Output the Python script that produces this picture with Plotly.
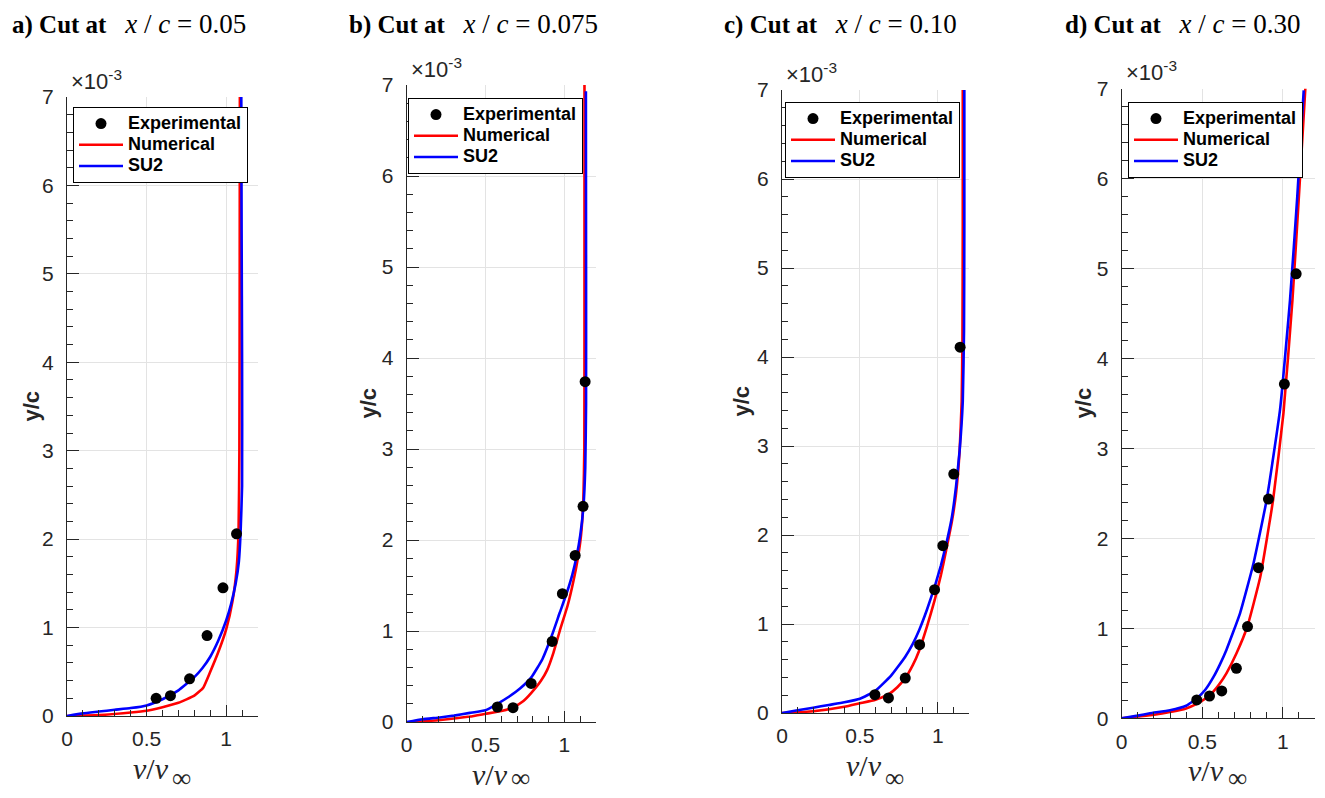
import plotly.graph_objects as go

# ---------------- data (y/c values in units of 1e-3) ----------------
panel_titles = ["a) Cut at", "b) Cut at", "c) Cut at", "d) Cut at"]
panel_xc = ["0.05", "0.075", "0.10", "0.30"]
series_names = ["Experimental", "Numerical", "SU2"]

# Panel a
a_exp_v = [0.56, 0.65, 0.77, 0.88, 0.98, 1.065]
a_exp_y = [0.20, 0.23, 0.42, 0.91, 1.45, 2.06]
a_num_v = [0, 0.2, 0.4, 0.5, 0.6, 0.7, 0.8, 0.856, 0.9, 0.95, 1.0, 1.04, 1.065, 1.078, 1.083, 1.085, 1.086]
a_num_y = [0, 0.01, 0.04, 0.06, 0.10, 0.15, 0.23, 0.32, 0.50, 0.72, 0.98, 1.30, 1.65, 2.1, 3.0, 5.0, 7.0]
a_su2_v = [0, 0.1, 0.2, 0.3, 0.4, 0.5, 0.6, 0.7, 0.8, 0.85, 0.9, 0.95, 1.0, 1.03, 1.06, 1.08, 1.09, 1.1, 1.1, 1.097, 1.095]
a_su2_y = [0, 0.03, 0.05, 0.07, 0.09, 0.12, 0.19, 0.29, 0.44, 0.54, 0.67, 0.85, 1.08, 1.26, 1.50, 1.75, 2.05, 2.6, 4.0, 5.5, 7.0]

# Panel b
b_exp_v = [0.575, 0.674, 0.789, 0.922, 0.987, 1.068, 1.118, 1.131]
b_exp_y = [0.165, 0.157, 0.424, 0.885, 1.41, 1.83, 2.37, 3.74]
b_num_v = [0.03, 0.2, 0.4, 0.5, 0.6, 0.674, 0.74, 0.79, 0.85, 0.89, 0.93, 0.97, 1.02, 1.057, 1.085, 1.105, 1.12, 1.126, 1.127, 1.127]
b_num_y = [0, 0.02, 0.06, 0.09, 0.12, 0.16, 0.23, 0.32, 0.45, 0.57, 0.76, 1.0, 1.28, 1.55, 1.80, 2.05, 2.45, 3.0, 4.5, 7.0]
b_su2_v = [0, 0.1, 0.21, 0.3, 0.4, 0.5, 0.575, 0.65, 0.72, 0.79, 0.86, 0.92, 0.97, 1.015, 1.05, 1.078, 1.1, 1.12, 1.132, 1.137, 1.137, 1.136]
b_su2_y = [0, 0.03, 0.05, 0.07, 0.10, 0.13, 0.20, 0.28, 0.37, 0.49, 0.69, 0.95, 1.20, 1.42, 1.62, 1.83, 2.05, 2.36, 2.8, 3.5, 5.0, 6.93]

# Panel c
c_exp_v = [0.596, 0.683, 0.791, 0.883, 0.979, 1.032, 1.102, 1.143]
c_exp_y = [0.206, 0.169, 0.393, 0.768, 1.386, 1.88, 2.685, 4.11]
c_num_v = [0, 0.2, 0.4, 0.5, 0.6, 0.683, 0.74, 0.79, 0.84, 0.88, 0.93, 0.98, 1.02, 1.05, 1.09, 1.117, 1.14, 1.153, 1.158, 1.16, 1.16]
c_num_y = [0, 0.02, 0.07, 0.11, 0.15, 0.21, 0.29, 0.39, 0.54, 0.70, 0.97, 1.27, 1.55, 1.80, 2.15, 2.47, 2.95, 3.5, 4.2, 5.5, 7.0]
c_su2_v = [0, 0.1, 0.2, 0.3, 0.4, 0.5, 0.6, 0.7, 0.79, 0.84, 0.88, 0.93, 0.98, 1.02, 1.05, 1.09, 1.117, 1.14, 1.16, 1.168, 1.17, 1.17]
c_su2_y = [0, 0.03, 0.06, 0.09, 0.12, 0.16, 0.25, 0.42, 0.63, 0.78, 0.93, 1.16, 1.42, 1.66, 1.87, 2.2, 2.55, 2.95, 3.5, 4.3, 5.5, 7.0]

# Panel d
d_exp_v = [0.466, 0.545, 0.621, 0.712, 0.781, 0.849, 0.911, 1.010, 1.083]
d_exp_y = [0.204, 0.248, 0.304, 0.556, 1.019, 1.674, 2.437, 3.715, 4.94]
d_num_v = [0, 0.1, 0.2, 0.3, 0.4, 0.466, 0.52, 0.57, 0.61, 0.65, 0.712, 0.78, 0.86, 0.94, 1.004, 1.06, 1.1, 1.14]
d_num_y = [0, 0.02, 0.04, 0.07, 0.11, 0.16, 0.22, 0.30, 0.39, 0.50, 0.72, 1.02, 1.57, 2.43, 3.39, 4.65, 5.8, 7.0]
d_su2_v = [0, 0.1, 0.176, 0.3, 0.4, 0.466, 0.52, 0.57, 0.61, 0.65, 0.735, 0.818, 0.90, 0.983, 1.045, 1.09, 1.13]
d_su2_y = [0, 0.03, 0.056, 0.09, 0.14, 0.22, 0.32, 0.46, 0.60, 0.76, 1.17, 1.72, 2.43, 3.43, 4.65, 5.8, 6.98]

panels = [
    (a_exp_v, a_exp_y, a_num_v, a_num_y, a_su2_v, a_su2_y),
    (b_exp_v, b_exp_y, b_num_v, b_num_y, b_su2_v, b_su2_y),
    (c_exp_v, c_exp_y, c_num_v, c_num_y, c_su2_v, c_su2_y),
    (d_exp_v, d_exp_y, d_num_v, d_num_y, d_su2_v, d_su2_y),
]

x_ticks = [0, 0.5, 1]
x_tick_text = ["0", "0.5", "1"]
y_ticks = [0, 1, 2, 3, 4, 5, 6, 7]

# ---------------- layout geometry (pixels in the 1325x798 page) ----------------
PAGE_PAD = 8                      # default body margin of the html page
W, H = 1325 - PAGE_PAD, 798 - PAGE_PAD
# (left, right, top, bottom) of each plotting box, page pixels
boxes = [
    (67, 258, 97, 716),
    (406.7, 596, 85, 722),
    (782, 969, 90, 713),
    (1121.7, 1315, 88.5, 718.3),
]
title_x = [10, 347, 722, 1063]
legend_pos = [(73, 107), (408, 98), (785, 102), (1128, 102)]
ytitle_x = [31, 368, 741, 1083]


def px(x):
    return (x - PAGE_PAD) / W


def py(y):
    return 1 - (y - PAGE_PAD) / H


def legend_label(s):
    return f"<span style='font-size:18px'>{s}</span>"


fig = go.Figure()
layout = dict(
    width=W, height=H,
    margin=dict(l=0, r=0, t=0, b=0, autoexpand=False),
    paper_bgcolor="white", plot_bgcolor="white",
    showlegend=True,
)
annotations = []
tick_font = dict(family="Liberation Sans, Arial", size=21, color="#262626")

for i, (ev, ey, nv, ny, sv, sy) in enumerate(panels):
    k = "" if i == 0 else str(i + 1)
    xa, ya = "x" + k, "y" + k
    leg = "legend" + k
    fig.add_trace(go.Scatter(x=nv, y=ny, mode="lines", name=legend_label(series_names[1]),
                             line=dict(color="#ff0000", width=2.6, shape="spline", smoothing=0.4),
                             xaxis=xa, yaxis=ya, legend=leg, legendrank=2))
    fig.add_trace(go.Scatter(x=sv, y=sy, mode="lines", name=legend_label(series_names[2]),
                             line=dict(color="#0000ff", width=2.6, shape="spline", smoothing=0.4),
                             xaxis=xa, yaxis=ya, legend=leg, legendrank=3))
    fig.add_trace(go.Scatter(x=ev, y=ey, mode="markers", name=legend_label(series_names[0]),
                             marker=dict(color="black", size=11, symbol="circle"),
                             xaxis=xa, yaxis=ya, legend=leg, legendrank=1))
    L, R, T, B = boxes[i]
    layout["xaxis" + k] = dict(
        domain=[px(L), px(R)], anchor=ya, range=[0, 1.2], automargin=False,
        tickvals=x_ticks, ticktext=x_tick_text,
        ticks="inside", ticklen=11, tickwidth=1, tickcolor="#262626",
        minor=dict(dtick=0.1, tick0=0, ticks="inside", ticklen=6, tickcolor="#262626", showgrid=False),
        showline=True, linecolor="#262626", linewidth=1,
        showgrid=True, gridcolor="#e3e3e3", gridwidth=1,
        zeroline=False, tickfont=tick_font, ticklabelstandoff=4,
        fixedrange=True,
    )
    layout["yaxis" + k] = dict(
        domain=[py(B), py(T)], anchor=xa, range=[0, 7], automargin=False,
        tickvals=y_ticks, ticktext=[str(t) for t in y_ticks],
        ticks="inside", ticklen=12, tickwidth=1, tickcolor="#262626",
        minor=dict(dtick=0.2, tick0=0, ticks="inside", ticklen=6, tickcolor="#262626", showgrid=False),
        showline=True, linecolor="#262626", linewidth=1,
        showgrid=True, gridcolor="#e3e3e3", gridwidth=1,
        zeroline=False, tickfont=tick_font, ticklabelstandoff=8,
        fixedrange=True,
    )
    lx, ly = legend_pos[i]
    layout[leg] = dict(
        x=px(lx), y=py(ly), xanchor="left", yanchor="top",
        bgcolor="white", bordercolor="black", borderwidth=1,
        font=dict(family="Liberation Sans, Arial", size=14, color="black", weight="bold"),
        tracegroupgap=0, itemwidth=44,
    )
    # title
    annotations.append(dict(
        x=px(title_x[i]), y=py(24), xref="paper", yref="paper",
        xanchor="left", yanchor="middle", showarrow=False,
        text=(f"<b>{panel_titles[i]}</b>   <span style='font-size:27px'><i>x</i> / <i>c</i>"
              f" = {panel_xc[i]}</span>"),
        font=dict(family="Liberation Serif, Times New Roman", size=25, color="black"),
    ))
    # exponent
    annotations.append(dict(
        x=px(L + 2), y=py(T - 17), xref="paper", yref="paper",
        xanchor="left", yanchor="middle", showarrow=False,
        text="×10<sup>-3</sup>",
        font=dict(family="Liberation Sans, Arial", size=22, color="#262626"),
    ))
    # y title
    annotations.append(dict(
        x=px(ytitle_x[i]), y=py((T + B) / 2), xref="paper", yref="paper",
        xanchor="center", yanchor="middle", showarrow=False, textangle=-90,
        text="<b>y/c</b>",
        font=dict(family="Liberation Sans, Arial", size=22, color="#262626"),
    ))
    # x title: v/v with a lowered infinity subscript
    xc = L + 0.5 * (R - L) / 1.2
    annotations.append(dict(
        x=px(xc + 4), y=py(B + 52), xref="paper", yref="paper",
        xanchor="center", yanchor="middle", showarrow=False,
        text="<i>v</i>/<i>v</i>",
        font=dict(family="Liberation Serif, Times New Roman", size=30, color="#262626"),
    ))
    annotations.append(dict(
        x=px(xc + 35), y=py(min(B + 68, 778)), xref="paper", yref="paper",
        xanchor="center", yanchor="middle", showarrow=False,
        text="∞",
        font=dict(family="Liberation Serif, Times New Roman", size=27, color="#262626"),
    ))

layout["annotations"] = annotations
fig.update_layout(**layout)
fig.write_html("out.html")
